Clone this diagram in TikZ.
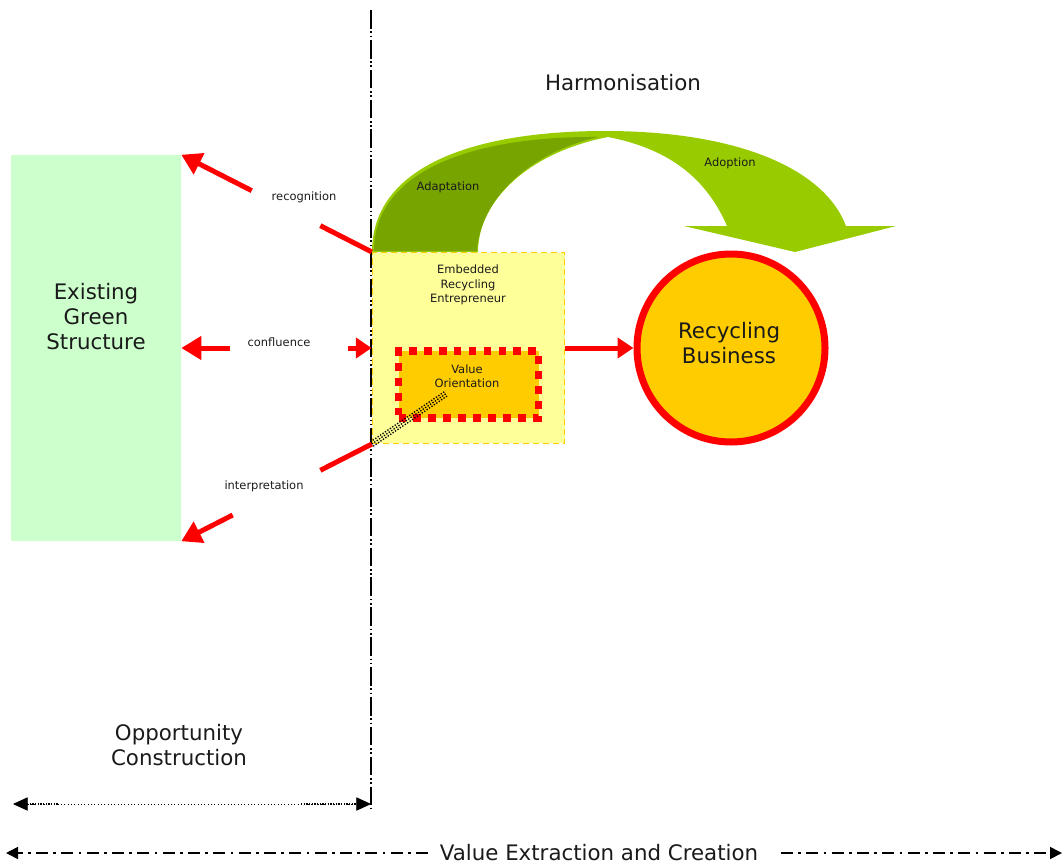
\documentclass[tikz,border=0pt]{standalone}
\usepackage{fontspec}
\setmainfont{DejaVu Sans}
\usetikzlibrary{arrows.meta,calc}
\definecolor{paleGreen}{HTML}{CCFFCC}
\definecolor{paleYellow}{HTML}{FFFF99}
\definecolor{amber}{HTML}{FFCC00}
\definecolor{leafGreen}{HTML}{99CC00}
\definecolor{oliveGreen}{HTML}{78A400}
\definecolor{inkGrey}{HTML}{1A1A1A}
\tikzset{
  bigtext/.style={font=\fontsize{16}{18.75}\selectfont, text=inkGrey, align=center, inner sep=0pt},
  smalltext/.style={font=\fontsize{8.6}{10.9}\selectfont, text=inkGrey, align=center, inner sep=0pt},
  redline/.style={draw=red, line width=3.75pt},
  redarrow/.style={draw=red, line width=3.75pt, -{Triangle[length=15pt,width=17pt]}},
  redshort/.style={draw=red, line width=3.75pt, -{Triangle[length=12pt,width=15pt]}},
  twoheads/.style={{Triangle[length=11pt,width=10pt]}-{Triangle[length=11pt,width=10pt]}},
  onehead/.style={-{Triangle[length=9pt,width=9pt]}},
}
\begin{document}
\begin{tikzpicture}[x=0.75pt,y=-0.75pt]
\useasboundingbox (0,0) rectangle (1062,863);

% left block
\node[fill=paleGreen, minimum width=127.5pt, minimum height=289.5pt, inner sep=0pt] (green) at (96,348) {};
\node[bigtext] (greentxt) at (96,317) {Existing\\Green\\Structure};

% entrepreneur block
\node[fill=paleYellow, draw=amber, line width=1.1pt, dash pattern=on 5pt off 2.5pt,
      minimum width=144pt, minimum height=143pt, inner sep=0pt] (ere) at (468.5,348) {};
\node[smalltext] (eretxt) at (468,285) {Embedded\\Recycling\\Entrepreneur};

% value orientation block
\node[fill=amber, draw=red, line width=5.8pt, dash pattern=on 5.8pt off 5.4pt,
      minimum width=105pt, minimum height=50pt, inner sep=0pt] (vo) at (468.5,384.5) {};
\node[smalltext] (votxt) at (467,376) {Value\\Orientation};

% hatched link from the corner into the value block
\coordinate (hatchEnd) at (447,393);
\foreach \dx/\dy in {-1.4/-2.1, 0/0, 1.4/2.1}
  \draw[black, line width=1pt, dash pattern=on 1pt off 1.2pt]
    ($(ere.south west)+(\dx,\dy)$) -- ($(hatchEnd)+(\dx,\dy)$);

% business circle
\node[circle, fill=amber, draw=red, line width=5.25pt, minimum size=141pt, inner sep=0pt] (biz) at (731,348) {};
\node[bigtext] (biztxt) at (729,343) {Recycling\\Business};

\draw[redshort] (ere.east) -- (biz.west);

% harmonisation arc: full arrow, then the adaptation band on top
\fill[leafGreen]
  (372,252) .. controls (372,168) and (470,131) .. (605,131)
  .. controls (740,131) and (825,170) .. (846,226)
  -- (896,226) -- (795,252) -- (684,226) -- (727,226)
  .. controls (705,175) and (665,148) .. (608,137)
  .. controls (530,152) and (478,200) .. (478,252) -- cycle;
\fill[oliveGreen]
  (374,251) .. controls (374,172) and (470,136) .. (598,137)
  .. controls (528,153) and (480,200) .. (477,251) -- cycle;
\node[smalltext] (adapt) at (448,187) {Adaptation};
\node[smalltext] (adopt) at (730,163) {Adoption};
\node[bigtext] (harm) at (623,83) {Harmonisation};

% divider
\draw[black, line width=1.8pt, dash pattern=on 14pt off 2pt on 1.2pt off 2pt on 1.2pt off 2pt]
  (371,10) -- (371,808);

% recognition
\draw[redline] (ere.north west) -- ($(ere.north west)!0.27!(green.north east)$);
\draw[redarrow] ($(ere.north west)!0.63!(green.north east)$) -- (green.north east);
\node[smalltext] (recog) at (304,197) {recognition};

% confluence
\coordinate (cfL) at (230,348);
\coordinate (cfR) at (348,348);
\draw[redarrow] (cfL) -- (green.east);
\draw[redshort] (cfR) -- (ere.west);
\node[smalltext] (confl) at (279,342) {confluence};

% interpretation
\draw[redline] (ere.south west) -- ($(ere.south west)!0.27!(green.south east)$);
\draw[redarrow] ($(ere.south west)!0.73!(green.south east)$) -- (green.south east);
\node[smalltext] (interp) at (264,486) {interpretation};

% opportunity construction span
\node[bigtext] (opp) at (179,745) {Opportunity\\Construction};
\coordinate (oppL) at (13,804);
\coordinate (oppR) at (371,804);
\draw[black, line width=0.5pt, dotted, twoheads] (oppL) -- (oppR);
\draw[black, line width=1.2pt, dash pattern=on 1pt off 1pt] ($(oppL)+(14,0)$) -- ($(oppL)+(45,0)$);
\draw[black, line width=1.2pt, dash pattern=on 1pt off 1pt] ($(oppR)+(-70,0)$) -- ($(oppR)+(-14,0)$);

% value extraction span
\node[bigtext, anchor=base] (vec) at (599,860) {Value Extraction and Creation};
\coordinate (vecL) at (6,853);
\coordinate (vecR) at (1062,853);
\draw[black, line width=1.2pt, dash pattern=on 9pt off 4pt on 2pt off 4pt, onehead]
  (428,853) -- (vecL);
\draw[black, line width=1.2pt, dash pattern=on 9pt off 4pt on 2pt off 4pt, onehead]
  (781,853) -- (vecR);
\end{tikzpicture}
\end{document}
